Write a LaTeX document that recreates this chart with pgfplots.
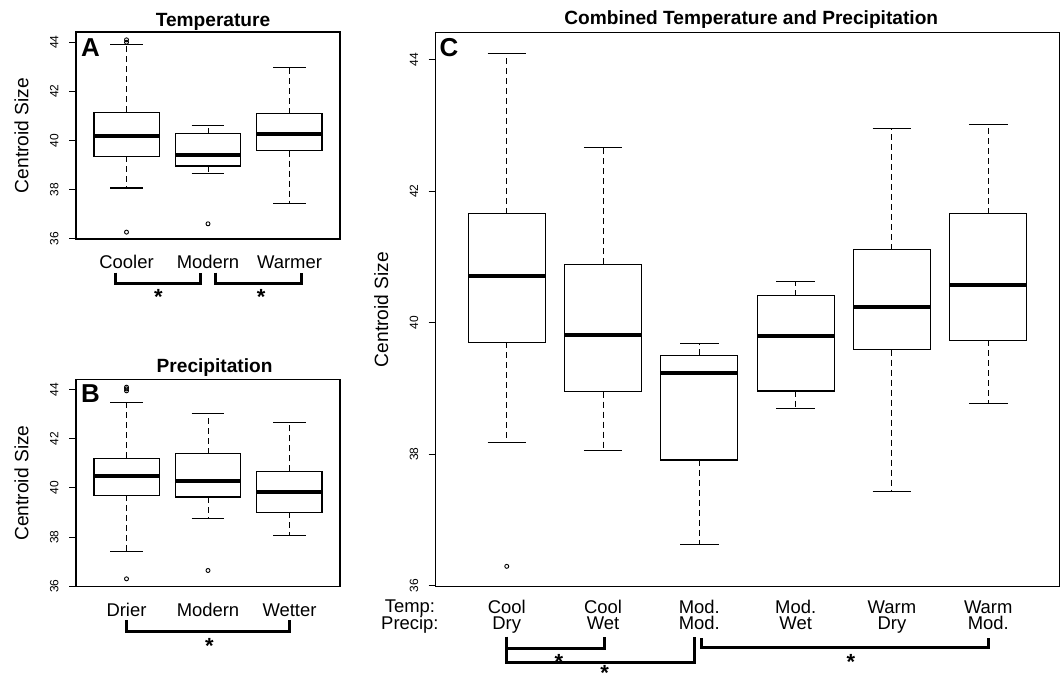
\documentclass[border=0pt]{standalone}
\usepackage{fontspec}
\setmainfont{Liberation Sans}
\usepackage{pgfplots}
\pgfplotsset{compat=1.18}
\usepgfplotslibrary{statistics}
\newcommand\fs[1]{\fontsize{#1}{#1}\selectfont}

\tikzset{
  star/.style={font=\bfseries\fs{22}, inner sep=0pt, anchor=center, yshift=-4bp},
  brk/.style={line width=3bp, line join=miter, line cap=butt},
}
\pgfplotsset{
  rbox/.style={
    black, solid, line width=1.2bp,
    mark=o, mark size=2bp, mark options={solid, line width=0.9bp},
    boxplot/draw direction=y,
    boxplot/box extend=0.8,
    boxplot/whisker extend=0.4,
    boxplot/every box/.style={line width=1.2bp},
    boxplot/every median/.style={line width=4bp},
    boxplot/draw/lower whisker/.code={%
      \draw[line width=1bp, dash pattern=on 6bp off 4bp]
        (boxplot box cs:\pgfplotsboxplotvalue{lower quartile},0.5) --
        (boxplot box cs:\pgfplotsboxplotvalue{lower whisker},0.5);
      \draw[line width=1.1bp]
        (boxplot whisker cs:\pgfplotsboxplotvalue{lower whisker},0) --
        (boxplot whisker cs:\pgfplotsboxplotvalue{lower whisker},1);
    },
    boxplot/draw/upper whisker/.code={%
      \draw[line width=1bp, dash pattern=on 6bp off 4bp]
        (boxplot box cs:\pgfplotsboxplotvalue{upper quartile},0.5) --
        (boxplot box cs:\pgfplotsboxplotvalue{upper whisker},0.5);
      \draw[line width=1.1bp]
        (boxplot whisker cs:\pgfplotsboxplotvalue{upper whisker},0) --
        (boxplot whisker cs:\pgfplotsboxplotvalue{upper whisker},1);
    },
  },
  rpanel/.style={
    scale only axis, anchor=south west, clip=false,
    ymin=35.98, ymax=44.42, ytick={36,38,40,42,44},
    ytick pos=left, tick align=outside, major tick length=7bp,
    xtick style={draw=none},
    ytick style={line width=1bp, black},
    axis line style={line width=1.2bp},
    /pgf/number format/assume math mode=true,
    yticklabel style={font=\fs{12}, xshift=-10.5bp, rotate=90, anchor=base, inner sep=0pt},
    xticklabel style={font=\fs{18.5}, anchor=base, inner sep=0pt, yshift=-22.5bp},
    title style={font=\bfseries\fs{19.2}, anchor=base, inner sep=0pt},
    ylabel style={font=\fs{19.3}, anchor=base, inner sep=0pt},
    ylabel={Centroid Size},
  },
}

\begin{document}
\begin{tikzpicture}
\path[use as bounding box] (0bp,0bp) rectangle (1063bp,677bp);

% ---------------- Panel A ----------------
\begin{axis}[rpanel,
  at={(76bp,438bp)}, width=264bp, height=207bp,
  xmin=0.38, xmax=3.62,
  xtick={1,2,3}, xticklabels={Cooler,Modern,Warmer},
  title={Temperature},
  title style={at={(axis description cs:0.519,1)}, yshift=-0.5bp},
  ylabel style={at={(axis description cs:-0.18,0.5)}},
]
\addplot[rbox, boxplot prepared={draw position=1, lower whisker=38.06, lower quartile=39.35, median=40.18, upper quartile=41.15, upper whisker=43.92}]
  table[row sep=\\, y index=0] {data\\ 44.10\\ 44.00\\ 36.26\\};
\addplot[rbox, boxplot prepared={draw position=2, lower whisker=38.66, lower quartile=38.96, median=39.39, upper quartile=40.28, upper whisker=40.62}]
  table[row sep=\\, y index=0] {data\\ 36.60\\};
\addplot[rbox, boxplot prepared={draw position=3, lower whisker=37.44, lower quartile=39.58, median=40.28, upper quartile=41.09, upper whisker=42.98}]
  coordinates {};
\node[anchor=base west, inner sep=0pt, xshift=5bp, yshift=-24.5bp, font=\bfseries\fs{26}] at (rel axis cs:0,1) {A};
\draw[brk] (axis cs:0.867,34.606) -- (axis cs:0.867,34.174) -- (axis cs:1.914,34.174) -- (axis cs:1.914,34.606);
\draw[brk] (axis cs:2.098,34.606) -- (axis cs:2.098,34.174) -- (axis cs:3.142,34.174) -- (axis cs:3.142,34.606);
\node[star] at (axis cs:1.39,33.79) {*};
\node[star] at (axis cs:2.651,33.79) {*};
\end{axis}

% ---------------- Panel B ----------------
\begin{axis}[rpanel,
  at={(76bp,90.3bp)}, width=264bp, height=207.4bp,
  xmin=0.38, xmax=3.62,
  xtick={1,2,3}, xticklabels={Drier,Modern,Wetter},
  title={Precipitation},
  title style={at={(axis description cs:0.525,1)}, yshift=0.5bp},
  ylabel style={at={(axis description cs:-0.18,0.5)}},
]
\addplot[rbox, boxplot prepared={draw position=1, lower whisker=37.43, lower quartile=39.70, median=40.49, upper quartile=41.21, upper whisker=43.47}]
  table[row sep=\\, y index=0] {data\\ 44.10\\ 44.03\\ 43.95\\ 36.30\\};
\addplot[rbox, boxplot prepared={draw position=2, lower whisker=38.75, lower quartile=39.63, median=40.29, upper quartile=41.40, upper whisker=43.02}]
  table[row sep=\\, y index=0] {data\\ 36.64\\};
\addplot[rbox, boxplot prepared={draw position=3, lower whisker=38.05, lower quartile=39.00, median=39.84, upper quartile=40.67, upper whisker=42.67}]
  coordinates {};
\node[anchor=base west, inner sep=0pt, xshift=5bp, yshift=-23.5bp, font=\bfseries\fs{26}] at (rel axis cs:0,1) {B};
\draw[brk] (axis cs:1,34.625) -- (axis cs:1,34.165) -- (axis cs:3,34.165) -- (axis cs:3,34.625);
\node[star] at (axis cs:2.016,33.741) {*};
\end{axis}

% ---------------- Panel C ----------------
\begin{axis}[rpanel,
  at={(435.5bp,90.3bp)}, width=624bp, height=554.4bp,
  xmin=0.26, xmax=6.74,
  xtick={1,2,3,4,5,6}, xticklabels={Cool,Cool,Mod.,Mod.,Warm,Warm},
  xticklabel style={yshift=3bp},
  extra x ticks={1,2,3,4,5,6},
  extra x tick labels={Dry,Wet,Mod.,Wet,Dry,Mod.},
  extra x tick style={xticklabel style={yshift=-16.5bp}},
  title={Combined Temperature and Precipitation},
  title style={at={(axis description cs:0.506,1)}, yshift=1.5bp},
  ylabel style={at={(axis description cs:-0.0761,0.5)}},
]
\addplot[rbox, boxplot prepared={draw position=1, lower whisker=38.18, lower quartile=39.70, median=40.71, upper quartile=41.66, upper whisker=44.10}]
  table[row sep=\\, y index=0] {data\\ 36.29\\};
\addplot[rbox, boxplot prepared={draw position=2, lower whisker=38.05, lower quartile=38.95, median=39.81, upper quartile=40.89, upper whisker=42.67}]
  coordinates {};
\addplot[rbox, boxplot prepared={draw position=3, lower whisker=36.62, lower quartile=37.91, median=39.23, upper quartile=39.50, upper whisker=39.68}]
  coordinates {};
\addplot[rbox, boxplot prepared={draw position=4, lower whisker=38.69, lower quartile=38.96, median=39.79, upper quartile=40.41, upper whisker=40.62}]
  coordinates {};
\addplot[rbox, boxplot prepared={draw position=5, lower whisker=37.43, lower quartile=39.59, median=40.24, upper quartile=41.11, upper whisker=42.95}]
  coordinates {};
\addplot[rbox, boxplot prepared={draw position=6, lower whisker=38.77, lower quartile=39.73, median=40.58, upper quartile=41.66, upper whisker=43.02}]
  coordinates {};
\node[anchor=base west, inner sep=0pt, xshift=4bp, yshift=-24.4bp, font=\bfseries\fs{26}] at (rel axis cs:0,1) {C};
\node[anchor=base, inner sep=0pt, yshift=-26bp, font=\fs{18.5}] at (rel axis cs:-0.041,0) {Temp:};
\node[anchor=base, inner sep=0pt, yshift=-42.5bp, font=\fs{18.5}] at (rel axis cs:-0.041,0) {Precip:};
\draw[brk] (axis cs:1,35.219) -- (axis cs:1,35.032) -- (axis cs:2.02,35.032) -- (axis cs:2.02,35.219);
\draw[brk] (axis cs:1,35.032) -- (axis cs:1,34.829) -- (axis cs:2.947,34.829) -- (axis cs:2.947,35.219);
\draw[brk] (axis cs:3.027,35.195) -- (axis cs:3.027,35.058) -- (axis cs:6,35.058) -- (axis cs:6,35.195);
\node[star] at (axis cs:1.542,34.899) {*};
\node[star] at (axis cs:2.017,34.73) {*};
\node[star] at (axis cs:4.574,34.89) {*};
\end{axis}
\end{tikzpicture}
\end{document}
